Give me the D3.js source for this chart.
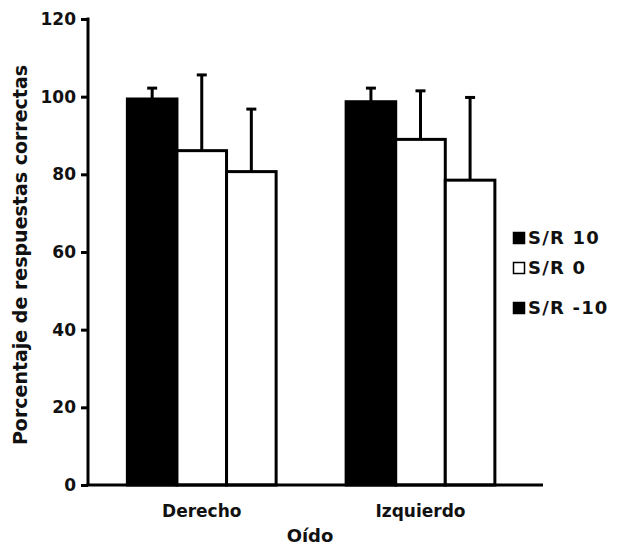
<!DOCTYPE html>
<html>
<head>
<meta charset="utf-8">
<script src="https://cdn.jsdelivr.net/npm/d3@7"></script>
<style>
  body { margin: 0; background: #fff; }
  text { font-family: "DejaVu Sans", Verdana, sans-serif; font-weight: bold; fill: #111; }
</style>
</head>
<body>
<svg id="chart"></svg>
<script>
const width = 620;
const height = 547;

// DATA
const groups = ["Derecho", "Izquierdo"];
const series = ["S/R 10", "S/R 0", "S/R -10"];
const barFill = ["#000", "#fff", "#fff"];
const legendFill = ["#000", "#fff", "#000"];
const means = {
  "Derecho":   [99.4, 86.1, 80.7],
  "Izquierdo": [98.7, 89.0, 78.5]
};
const errTop = {
  "Derecho":   [102.2, 105.6, 96.8],
  "Izquierdo": [102.2, 101.5, 99.8]
};
const yTicks = [0, 20, 40, 60, 80, 100, 120];

const plotLeft = 88, plotRight = 543, plotTop = 19, plotBottom = 485;

// SCALES
const xScale = d3.scaleBand()
        .domain(groups)
        .range([plotLeft, plotRight])
        .paddingInner(0.32)
        .paddingOuter(0.2)
        .align(0.45)

const subScale = d3.scaleBand()
        .domain(series)
        .range([0, xScale.bandwidth()])

const yScale = d3.scaleLinear()
        .domain([0, 120])
        .range([plotBottom, plotTop])

const svg = d3.select("#chart")
  .attr("width", width)
  .attr("height", height)

// BARS
const rows = [];
groups.forEach(g => series.forEach((s, i) => rows.push({ g, s, i, v: means[g][i], e: errTop[g][i] })));

// error bars (upper only), drawn under bars
const err = svg.append("g")
  .selectAll("g")
  .data(rows)
  .enter()
  .append("g")
    .attr("stroke", "#000")
    .attr("stroke-width", 3)

err.append("line")
    .attr("x1", d => xScale(d.g) + subScale(d.s) + subScale.bandwidth() / 2)
    .attr("x2", d => xScale(d.g) + subScale(d.s) + subScale.bandwidth() / 2)
    .attr("y1", d => yScale(d.v))
    .attr("y2", d => yScale(d.e))

err.append("line")
    .attr("x1", d => xScale(d.g) + subScale(d.s) + subScale.bandwidth() / 2 - 5)
    .attr("x2", d => xScale(d.g) + subScale(d.s) + subScale.bandwidth() / 2 + 5)
    .attr("y1", d => yScale(d.e))
    .attr("y2", d => yScale(d.e))

svg.append("g")
  .selectAll("rect")
  .data(rows)
  .enter()
  .append("rect")
    .attr("x", d => xScale(d.g) + subScale(d.s))
    .attr("y", d => yScale(d.v))
    .attr("width", subScale.bandwidth())
    .attr("height", d => plotBottom - yScale(d.v))
    .attr("fill", d => barFill[d.i])
    .attr("stroke", "#000")
    .attr("stroke-width", 3)

// AXES
const yAxis = d3.axisLeft(yScale)
        .tickValues(yTicks)
        .tickSize(7)
        .tickSizeOuter(0)
        .tickPadding(5)

svg.append("g")
    .attr("transform", `translate(${plotLeft}, 0)`)
  .call(yAxis)
  .call(g => g.select(".domain").attr("stroke-width", 3).attr("d", `M0,${plotTop - 1.5}V${plotBottom}`))
  .call(g => g.selectAll(".tick line").attr("stroke-width", 3))
  .call(g => g.selectAll(".tick text").style("font-size", "17px").attr("fill", "#111"))

const xAxis = d3.axisBottom(xScale)
        .tickSize(0)
        .tickSizeOuter(0)
        .tickPadding(20)

svg.append("g")
    .attr("transform", `translate(0, ${plotBottom})`)
  .call(xAxis)
  .call(g => g.select(".domain").attr("stroke-width", 3).attr("d", `M${plotLeft - 1.5},0H${plotRight}`))
  .call(g => g.selectAll(".tick text").style("font-size", "17px").attr("fill", "#111"))

// AXIS TITLES
svg.append("text")
    .attr("x", 310)
    .attr("y", 542)
    .style("text-anchor", "middle")
    .style("font-size", "18px")
    .text("Oído")

svg.append("text")
    .attr("transform", "rotate(-90)")
    .attr("x", -255)
    .attr("y", 27)
    .style("text-anchor", "middle")
    .style("font-size", "19px")
    .text("Porcentaje de respuestas correctas")

// LEGEND
const legendY = [238, 268, 308];
const legend = svg.append("g")
  .selectAll("g")
  .data(series)
  .enter()
  .append("g")
    .attr("transform", (d, i) => `translate(513, ${legendY[i]})`)

legend.append("rect")
    .attr("x", 0.5)
    .attr("y", -5.5)
    .attr("width", 11)
    .attr("height", 11)
    .attr("fill", (d, i) => legendFill[i])
    .attr("stroke", "#000")
    .attr("stroke-width", 1.5)

legend.append("text")
    .attr("x", 15)
    .attr("dy", "0.36em")
    .style("font-size", "18px")
    .style("letter-spacing", "1.2px")
    .text(d => d)
</script>
</body>
</html>
